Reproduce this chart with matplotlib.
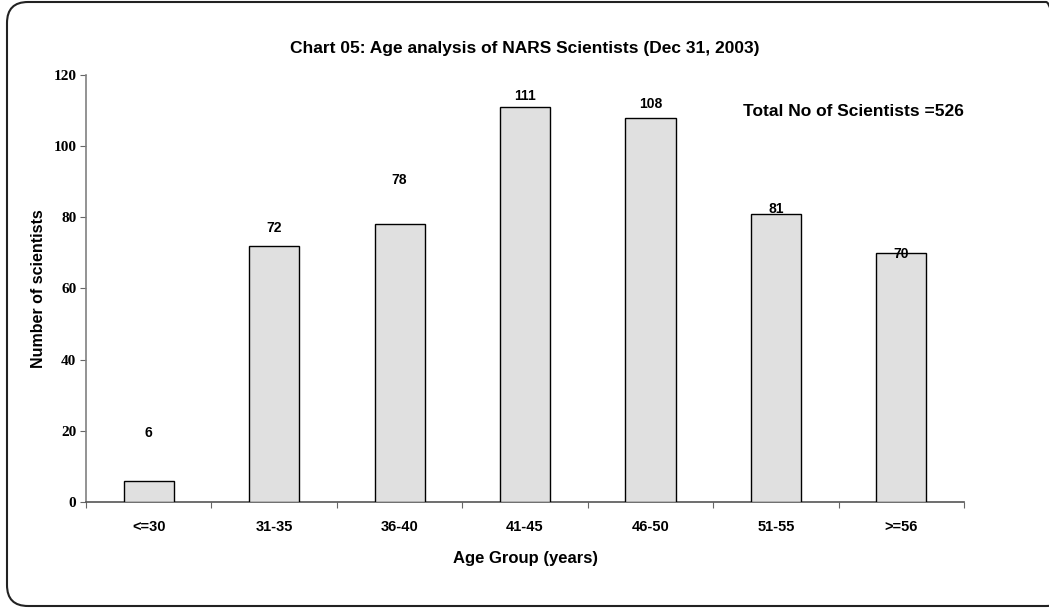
import matplotlib.pyplot as plt
import numpy as np
from matplotlib.patches import FancyBboxPatch

age_groups = ["<=30", "31-35", "36-40", "41-45", "46-50", "51-55", ">=56"]
scientists = [6, 72, 78, 111, 108, 81, 70]
total_scientists = 526

# label offsets above bar tops, in points (as placed in the original)
label_offsets = [29, 8, 27, 3, 5, -2, -6]

sans = ["Liberation Sans", "DejaVu Sans"]
serif = ["Liberation Serif", "DejaVu Serif"]

fig = plt.figure(figsize=(10.49, 6.13), dpi=100)
ax = fig.add_axes([0.082, 0.181, 0.837, 0.697])

x = np.arange(len(age_groups))
ax.bar(x, scientists, width=0.4, color="#e0e0e0", edgecolor="black", linewidth=1.0, zorder=3)

for xi, v, off in zip(x, scientists, label_offsets):
    ax.annotate(str(v), (xi, v), xytext=(0, off), textcoords="offset points",
                ha="center", va="bottom", fontsize=10, fontweight="bold", family=sans)

ax.set_xlim(-0.5, len(age_groups) - 0.5)
ax.set_ylim(0, 120)
ax.set_yticks(range(0, 121, 20))
for lbl in ax.get_yticklabels():
    lbl.set_family(serif)
    lbl.set_fontweight("bold")
    lbl.set_fontsize(11)

# boundary ticks on x, labels at centres
ax.set_xticks(np.arange(-0.5, len(age_groups), 1.0))
ax.set_xticklabels([])
ax.set_xticks(x, minor=True)
ax.set_xticklabels(age_groups, minor=True, fontsize=10.5, fontweight="bold", family=sans)
ax.tick_params(axis="x", which="major", direction="out", length=4, color="#666666")
ax.tick_params(axis="x", which="minor", length=0, pad=13)
ax.tick_params(axis="y", direction="out", length=4, pad=3, color="#666666")

for side in ["top", "right"]:
    ax.spines[side].set_visible(False)
ax.spines["left"].set_color("#808080")
ax.spines["bottom"].set_color("#555555")
ax.spines["left"].set_linewidth(1.2)
ax.spines["bottom"].set_linewidth(1.2)

ax.set_xlabel("Age Group (years)", fontsize=12, fontweight="bold", family=sans, labelpad=12)
ax.set_ylabel("Number of scientists", fontsize=11.5, fontweight="bold", family=sans, labelpad=5)

fig.text(525 / 1049, 1 - 48 / 613, "Chart 05: Age analysis of NARS Scientists (Dec 31, 2003)",
         ha="center", va="center", fontsize=12.5, fontweight="bold", family=sans)
fig.text(743 / 1049, 1 - 111 / 613, f"Total No of Scientists ={total_scientists}",
         ha="left", va="center", fontsize=12.5, fontweight="bold", family=sans)

frame = FancyBboxPatch((7 / 1049, 7 / 613), 1060 / 1049, 604 / 613,
                       boxstyle="round,pad=0,rounding_size=0.02",
                       transform=fig.transFigure, fill=False,
                       edgecolor="#222222", linewidth=1.5, mutation_aspect=1049 / 613)
fig.patches.append(frame)

fig.savefig("out.png", dpi=100)
